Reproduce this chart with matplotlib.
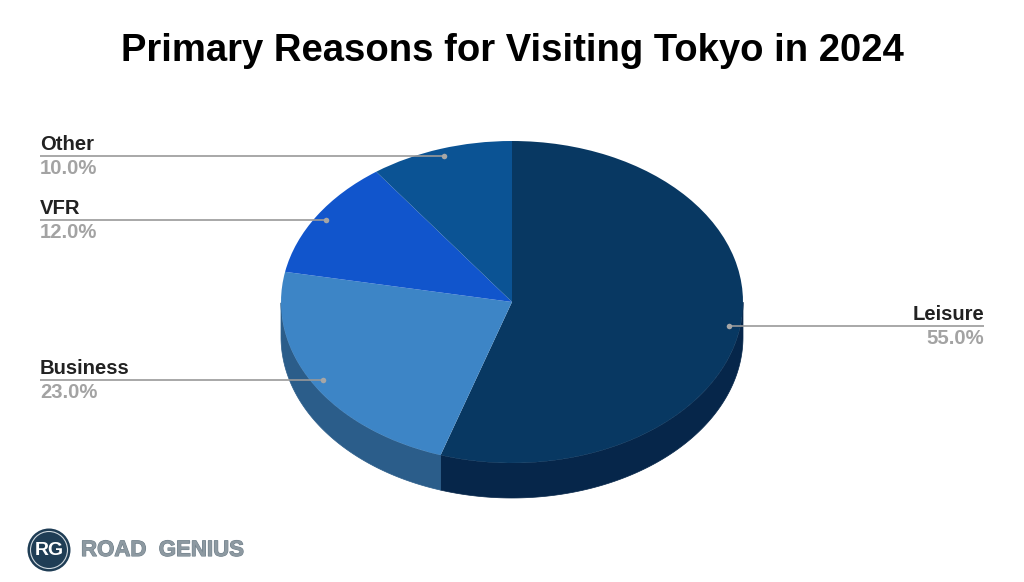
import numpy as np
from matplotlib import pyplot as plt
from matplotlib import patheffects as pe

plt.rcParams['font.family'] = ['Liberation Sans', 'DejaVu Sans']

title = "Primary Reasons for Visiting Tokyo in 2024"
labels = ["Leisure", "Business", "VFR", "Other"]
values = [55.0, 23.0, 12.0, 10.0]
colors = ["#083862", "#3d85c6", "#1155cc", "#0b5394"]
side_colors = ["#06264a", "#2b5d8a", "#0c3b8f", "#083a68"]

W, H = 1024, 582
cx, cy, rx, ry, depth = 512, 302, 231, 161, 35

fig = plt.figure(figsize=(W / 100, H / 100), dpi=100)

# pie axes is the bounding box of the top face, so the circle gets squashed
ax = fig.add_axes([(cx - rx) / W, 1 - (cy + ry) / H, 2 * rx / W, 2 * ry / H])
ax.pie(values, colors=colors, startangle=90, counterclock=False, radius=1,
       wedgeprops={"linewidth": 0}, frame=False)
ax.set_aspect("auto")
ax.set_xlim(-1, 1)
ax.set_ylim(-1, 1)
ax.axis("off")

# side wall, only the part of each slice facing down
drop = depth / ry
start = 0
for val, col in zip(values, side_colors):
    end = start + val / sum(values) * 2 * np.pi
    t = np.linspace(start, end, 300)
    t = t[np.cos(t) <= 0]
    if len(t):
        x, y = np.sin(t), np.cos(t)
        ax.fill(np.r_[x, x[::-1]], np.r_[y, y[::-1] - drop], color=col, lw=0.5,
                clip_on=False, zorder=0)
    start = end

# overlay in pixel coords for texts and leader lines
ov = fig.add_axes([0, 0, 1, 1], facecolor="none")
ov.set_xlim(0, W)
ov.set_ylim(H, 0)
ov.axis("off")

ov.text(512, 51, title, ha="center", va="center", fontsize=27.5,
        fontweight="bold", color="black")

lead = {"Other": (40, 444, 156), "VFR": (40, 326, 220),
        "Business": (40, 323, 380), "Leisure": (984, 729, 326)}
for name, val in zip(labels, values):
    x0, x1, y = lead[name]
    ov.plot([x0, x1], [y, y], color="#999999", lw=1.2, solid_capstyle="butt")
    ov.plot([x1], [y], "o", color="#a6a6a6", ms=4, mew=0)
    ha = "left" if x0 < x1 else "right"
    ov.text(x0, y - 11.5, name, ha=ha, va="center", fontsize=14.6,
            fontweight="bold", color="#222222")
    ov.text(x0, y + 13, f"{val:.1f}%", ha=ha, va="center", fontsize=14.6,
            fontweight="bold", color="#a3a3a3")

# logo
ov.add_patch(plt.Circle((49, 550), 21.5, color="#1f3d55", lw=0))
ov.add_patch(plt.Circle((49, 550), 18.5, fill=False, ec="#cfd8de", lw=0.8))
logo_rg = ov.text(49, 550.5, "RG", ha="center", va="center", fontsize=14,
                  fontweight="bold", color="white")
ov.text(81, 550.5, "ROAD  GENIUS", ha="left", va="center", fontsize=16,
        fontweight="bold", color="#8d99a1",
        path_effects=[pe.withStroke(linewidth=0.8, foreground="#6f7f8a")])

fig.savefig("out.png", dpi=100)
